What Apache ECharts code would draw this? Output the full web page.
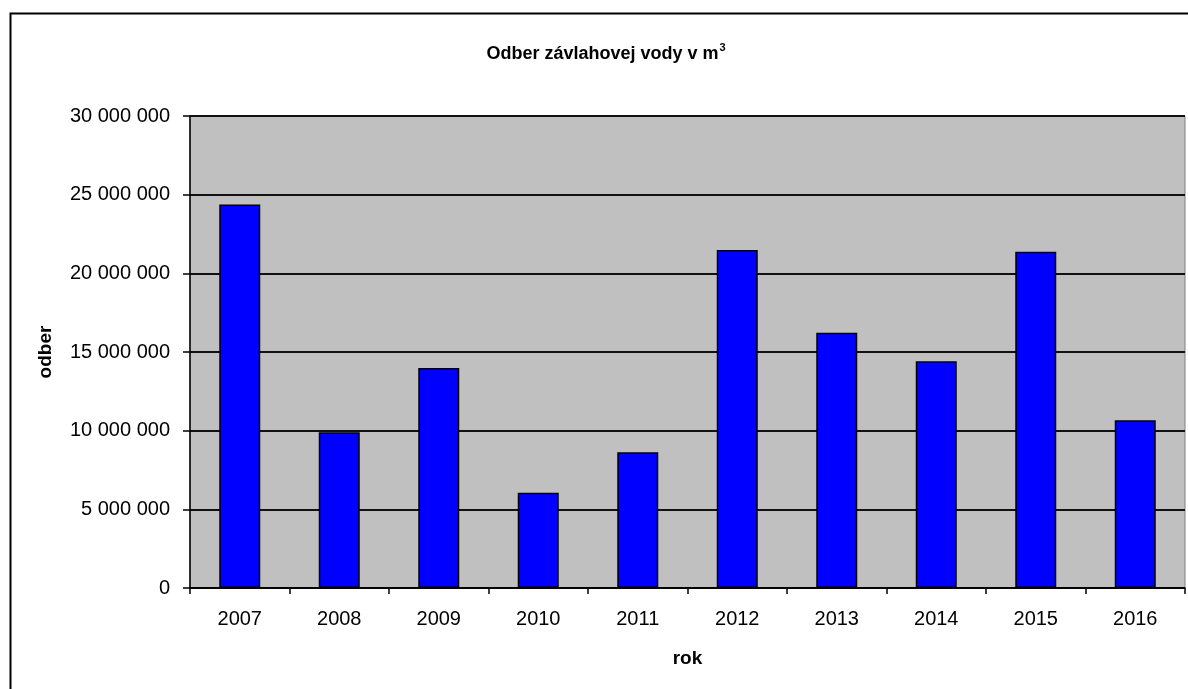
<!DOCTYPE html>
<html>
<head>
<meta charset="utf-8">
<script src="https://cdn.jsdelivr.net/npm/echarts@6/dist/echarts.min.js"></script>
<style>
html,body{margin:0;padding:0;background:#fff;}
#chart{width:1188px;height:689px;}
</style>
</head>
<body>
<div id="chart"></div>
<script>
// roky a odber vody (m3), odcitane z grafu
var years = ['2007','2008','2009','2010','2011','2012','2013','2014','2015','2016'];
var odber = [24380000, 9900000, 13980000, 6060000, 8630000, 21480000, 16230000, 14410000, 21370000, 10670000];
var yTicks = [0, 5000000, 10000000, 15000000, 20000000, 25000000, 30000000];

function spaced(v){
  return String(v).replace(/\B(?=(\d{3})+(?!\d))/g,' ');
}

var myChart = echarts.init(document.getElementById('chart'));
var font = '"Liberation Sans", Arial, sans-serif';

var option = {
  animation:false,
  title:{
    text:'{a|Odber závlahovej vody v m}{s|3}',
    left:601,
    top:32,
    textAlign:'center',
    textStyle:{
      rich:{
        a:{fontFamily:font,fontWeight:'bold',fontSize:18,color:'#000',height:22},
        s:{fontFamily:font,fontWeight:'bold',fontSize:11,color:'#000',verticalAlign:'top',height:22,padding:[0,0,12,1]}
      }
    }
  },
  graphic:[{
    type:'rect',
    left:8, top:11,
    shape:{width:1200,height:700},
    style:{fill:'none',stroke:'#000',lineWidth:2},
    silent:true
  }],
  grid:{
    left:190, right:3, top:116, bottom:101,
    show:true,
    backgroundColor:'#C0C0C0',
    borderColor:'#808080',
    borderWidth:1
  },
  xAxis:{
    type:'category',
    data:years,
    name:'rok',
    nameLocation:'middle',
    nameGap:61,
    nameTextStyle:{fontFamily:font,fontWeight:'bold',fontSize:19,color:'#000'},
    axisLine:{lineStyle:{color:'#000',width:1.5}},
    axisTick:{show:true,length:6,lineStyle:{color:'#000',width:1.5}},
    axisLabel:{fontFamily:font,fontSize:20,color:'#000',margin:21}
  },
  yAxis:{
    type:'value',
    min:yTicks[0],
    max:yTicks[yTicks.length-1],
    interval:5000000,
    name:'odber',
    nameLocation:'middle',
    nameGap:135,
    nameRotate:90,
    nameTextStyle:{fontFamily:font,fontWeight:'bold',fontSize:19,color:'#000'},
    axisLine:{show:true,lineStyle:{color:'#000',width:1.5}},
    axisTick:{show:true,length:7,lineStyle:{color:'#000',width:1.5}},
    axisLabel:{fontFamily:font,fontSize:20,color:'#000',margin:20,formatter:function(v){return spaced(v);}},
    splitLine:{lineStyle:{color:'#111',width:2}}
  },
  series:[{
    type:'bar',
    data:odber,
    barWidth:41,
    itemStyle:{color:'#0000FF',borderColor:'#000',borderWidth:1.5}
  }]
};
myChart.setOption(option);
</script>
</body>
</html>
